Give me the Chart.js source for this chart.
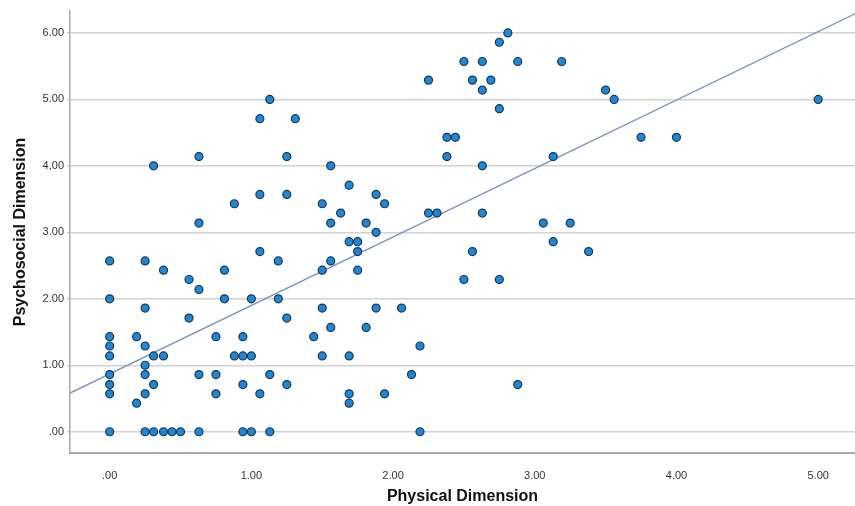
<!DOCTYPE html>
<html>
<head>
<meta charset="utf-8">
<script src="https://cdn.jsdelivr.net/npm/chart.js@4.4.1/dist/chart.umd.min.js"></script>
<style>
  html, body { margin: 0; padding: 0; background: #fff; }
  #scatter { display: block; }
</style>
</head>
<body>
<canvas id="scatter" width="855" height="506"></canvas>
<script>
// Physical vs Psychosocial
const physical = [
  0, 0, 0, 0, 0, 0, 0, 0, 0,
  0.19, 0.19,
  0.25, 0.25, 0.25, 0.25, 0.25, 0.25, 0.25,
  0.31, 0.31, 0.31, 0.31,
  0.38, 0.38, 0.38,
  0.44, 0.5,
  0.56, 0.56,
  0.63, 0.63, 0.63, 0.63, 0.63,
  0.75, 0.75, 0.75,
  0.81, 0.81,
  0.88, 0.88,
  0.94, 0.94, 0.94, 0.94,
  1.0, 1.0, 1.0,
  1.06, 1.06, 1.06, 1.06,
  1.13, 1.13, 1.13,
  1.19, 1.19,
  1.25, 1.25, 1.25, 1.25,
  1.31, 1.44,
  1.5, 1.5, 1.5, 1.5,
  1.56, 1.56, 1.56, 1.56,
  1.63,
  1.69, 1.69, 1.69, 1.69, 1.69,
  1.75, 1.75, 1.75,
  1.81, 1.81,
  1.88, 1.88, 1.88,
  1.94, 1.94,
  2.06, 2.13, 2.19, 2.19,
  2.25, 2.25, 2.31,
  2.38, 2.38, 2.44,
  2.5, 2.5, 2.56, 2.56,
  2.63, 2.63, 2.63, 2.63,
  2.69,
  2.75, 2.75, 2.75,
  2.81, 2.88, 2.88,
  3.06, 3.13, 3.13, 3.19, 3.25, 3.38,
  3.5, 3.56, 3.75, 4.0, 5.0
];
const psychosocial = [
  2.57, 2.0, 1.43, 1.29, 1.14, 0.86, 0.71, 0.57, 0,
  1.43, 0.43,
  2.57, 1.86, 1.29, 1.0, 0.86, 0.57, 0,
  1.14, 0.71, 0, 4.0,
  2.43, 1.14, 0,
  0, 0,
  2.29, 1.71,
  2.14, 0.86, 0, 4.14, 3.14,
  1.43, 0.86, 0.57,
  2.43, 2.0,
  1.14, 3.43,
  1.43, 1.14, 0.71, 0,
  2.0, 1.14, 0,
  2.71, 0.57, 3.57, 4.71,
  0.86, 0, 5.0,
  2.57, 2.0,
  1.71, 0.71, 4.14, 3.57,
  4.71, 1.43,
  3.43, 2.43, 1.86, 1.14,
  4.0, 3.14, 2.57, 1.57,
  3.29,
  3.71, 2.86, 1.14, 0.57, 0.43,
  2.86, 2.71, 2.43,
  3.14, 1.57,
  3.57, 3.0, 1.86,
  3.43, 0.57,
  1.86, 0.86, 1.29, 0,
  5.29, 3.29, 3.29,
  4.43, 4.14, 4.43,
  5.57, 2.29, 5.29, 2.71,
  5.57, 5.14, 4.0, 3.29,
  5.29,
  5.86, 4.86, 2.29,
  6.0, 5.57, 0.71,
  3.14, 4.14, 2.86, 5.57, 3.14, 2.71,
  5.14, 5.0, 4.43, 4.43, 5.0
];

const xTickLabels = ['.00', '1.00', '2.00', '3.00', '4.00', '5.00'];
const yTickLabels = ['.00', '1.00', '2.00', '3.00', '4,00', '5.00', '6.00'];

// fit line (y = a + b*x) as drawn in the reference
const fitIntercept = 0.87;
const fitSlope = 1.03;

const xMin = -0.28, xMax = 5.26;
const yMin = -0.32, yMax = 6.33;

const points = physical.map((x, i) => ({ x: x, y: psychosocial[i] }));
const fitLine = [
  { x: xMin, y: fitIntercept + fitSlope * xMin },
  { x: xMax, y: fitIntercept + fitSlope * xMax }
];

const tickFont = { family: 'Arial, "Liberation Sans", sans-serif', size: 11 };
const titleFont = { family: 'Arial, "Liberation Sans", sans-serif', size: 16, weight: 'bold' };

new Chart(document.getElementById('scatter'), {
  type: 'scatter',
  data: {
    datasets: [
      {
        data: points,
        backgroundColor: '#1e88d6',
        borderColor: '#1b3550',
        borderWidth: 1.2,
        pointRadius: 4,
        order: 1
      },
      {
        type: 'line',
        data: fitLine,
        borderColor: '#7e90c2',
        borderWidth: 1.3,
        pointRadius: 0,
        fill: false,
        order: 2
      }
    ]
  },
  options: {
    responsive: false,
    animation: false,
    // autoPadding 끄기 (오른쪽 6px 여백 생기는 원인)
    layout: { autoPadding: false, padding: { top: 11, right: 0, left: 0, bottom: 0 } },
    plugins: {
      legend: { display: false },
      tooltip: { enabled: false }
    },
    scales: {
      x: {
        type: 'linear',
        min: xMin,
        max: xMax,
        afterFit: (scale) => {
          scale.height = 53;
          scale.paddingLeft = 0;
          scale.paddingRight = 0;
        },
        grid: { display: false },
        border: { display: true, color: '#a9a9a9', width: 2 },
        ticks: {
          stepSize: 1,
          includeBounds: false,
          padding: 8,
          color: '#333',
          font: tickFont,
          maxRotation: 0,
          callback: (v) => Number.isInteger(v) ? xTickLabels[v] : ''
        },
        title: {
          display: true,
          text: 'Physical Dimension',
          color: '#111',
          font: titleFont,
          padding: { top: 0, bottom: 0 }
        }
      },
      y: {
        type: 'linear',
        min: yMin,
        max: yMax,
        afterFit: (scale) => {
          scale.width = 70;
          scale.paddingTop = 0;
          scale.paddingBottom = 0;
        },
        grid: { color: '#d2d2d2', lineWidth: 1.5, tickLength: 3 },
        border: { display: true, color: '#a9a9a9', width: 1.5 },
        ticks: {
          stepSize: 1,
          includeBounds: false,
          padding: 3,
          color: '#333',
          font: tickFont,
          callback: (v) => Number.isInteger(v) ? yTickLabels[v] : ''
        },
        title: {
          display: true,
          text: 'Psychosocial Dimension',
          color: '#111',
          font: titleFont,
          padding: { top: 11, bottom: 0 }
        }
      }
    }
  }
});
</script>
</body>
</html>
